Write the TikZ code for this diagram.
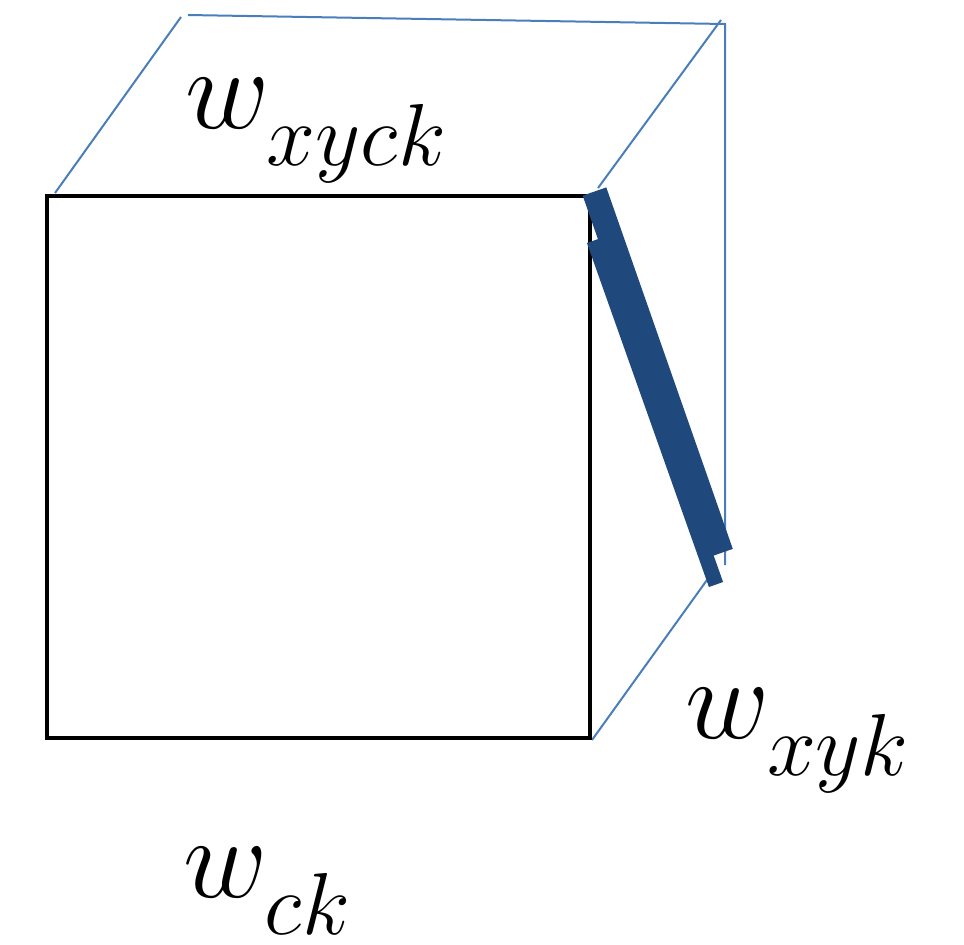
\documentclass[tikz,border=0pt]{standalone}
\usepackage{fix-cm}
\definecolor{liteblue}{RGB}{74,126,187}
\definecolor{darkblue}{RGB}{31,73,125}
\tikzstyle{edge}=[draw=liteblue, line width=0.5pt]
\tikzstyle{bar}=[draw=darkblue, line width=6.25pt]
\tikzstyle{lbl}=[inner sep=0pt, anchor=base west, font=\fontsize{29}{34}\selectfont]
\DeclareMathSizes{29}{29}{22}{15}
\newcommand{\wlabel}[1]{$w_{\raisebox{-5pt}{$\scriptstyle #1$}}$}

\begin{document}
\begin{tikzpicture}[x=0.25pt, y=-0.25pt]
        \useasboundingbox (0,0) rectangle (964,944);
        \coordinate (a) at (47,196);
        \coordinate (b) at (590,196);
        \coordinate (c) at (590,738);
        \coordinate (d) at (47,738);
        % back edges, thin
        \draw[edge] (55,193) -- (181,17);
        \draw[edge] (188,15) -- (725,24) -- (725,565);
        \draw[edge] (598,188) -- (721,20);
        \draw[edge] (592,740) -- (712,573);
        % front face
        \draw[line width=1.2pt] (a) -- (b) -- (c) -- (d) -- cycle;
        % the slice
        \draw[bar] (594.5,191.5) -- (721,553);
        \draw[bar, line width=3.75pt] (594,240.5) -- (716,584.5);
        \node[lbl] (wxyck) at (185,128) {\wlabel{xyck}};
        \node[lbl] (wxyk) at (685,738) {\wlabel{xyk}};
        \node[lbl] (wck) at (183,897) {\wlabel{ck}};
\end{tikzpicture}
\end{document}
